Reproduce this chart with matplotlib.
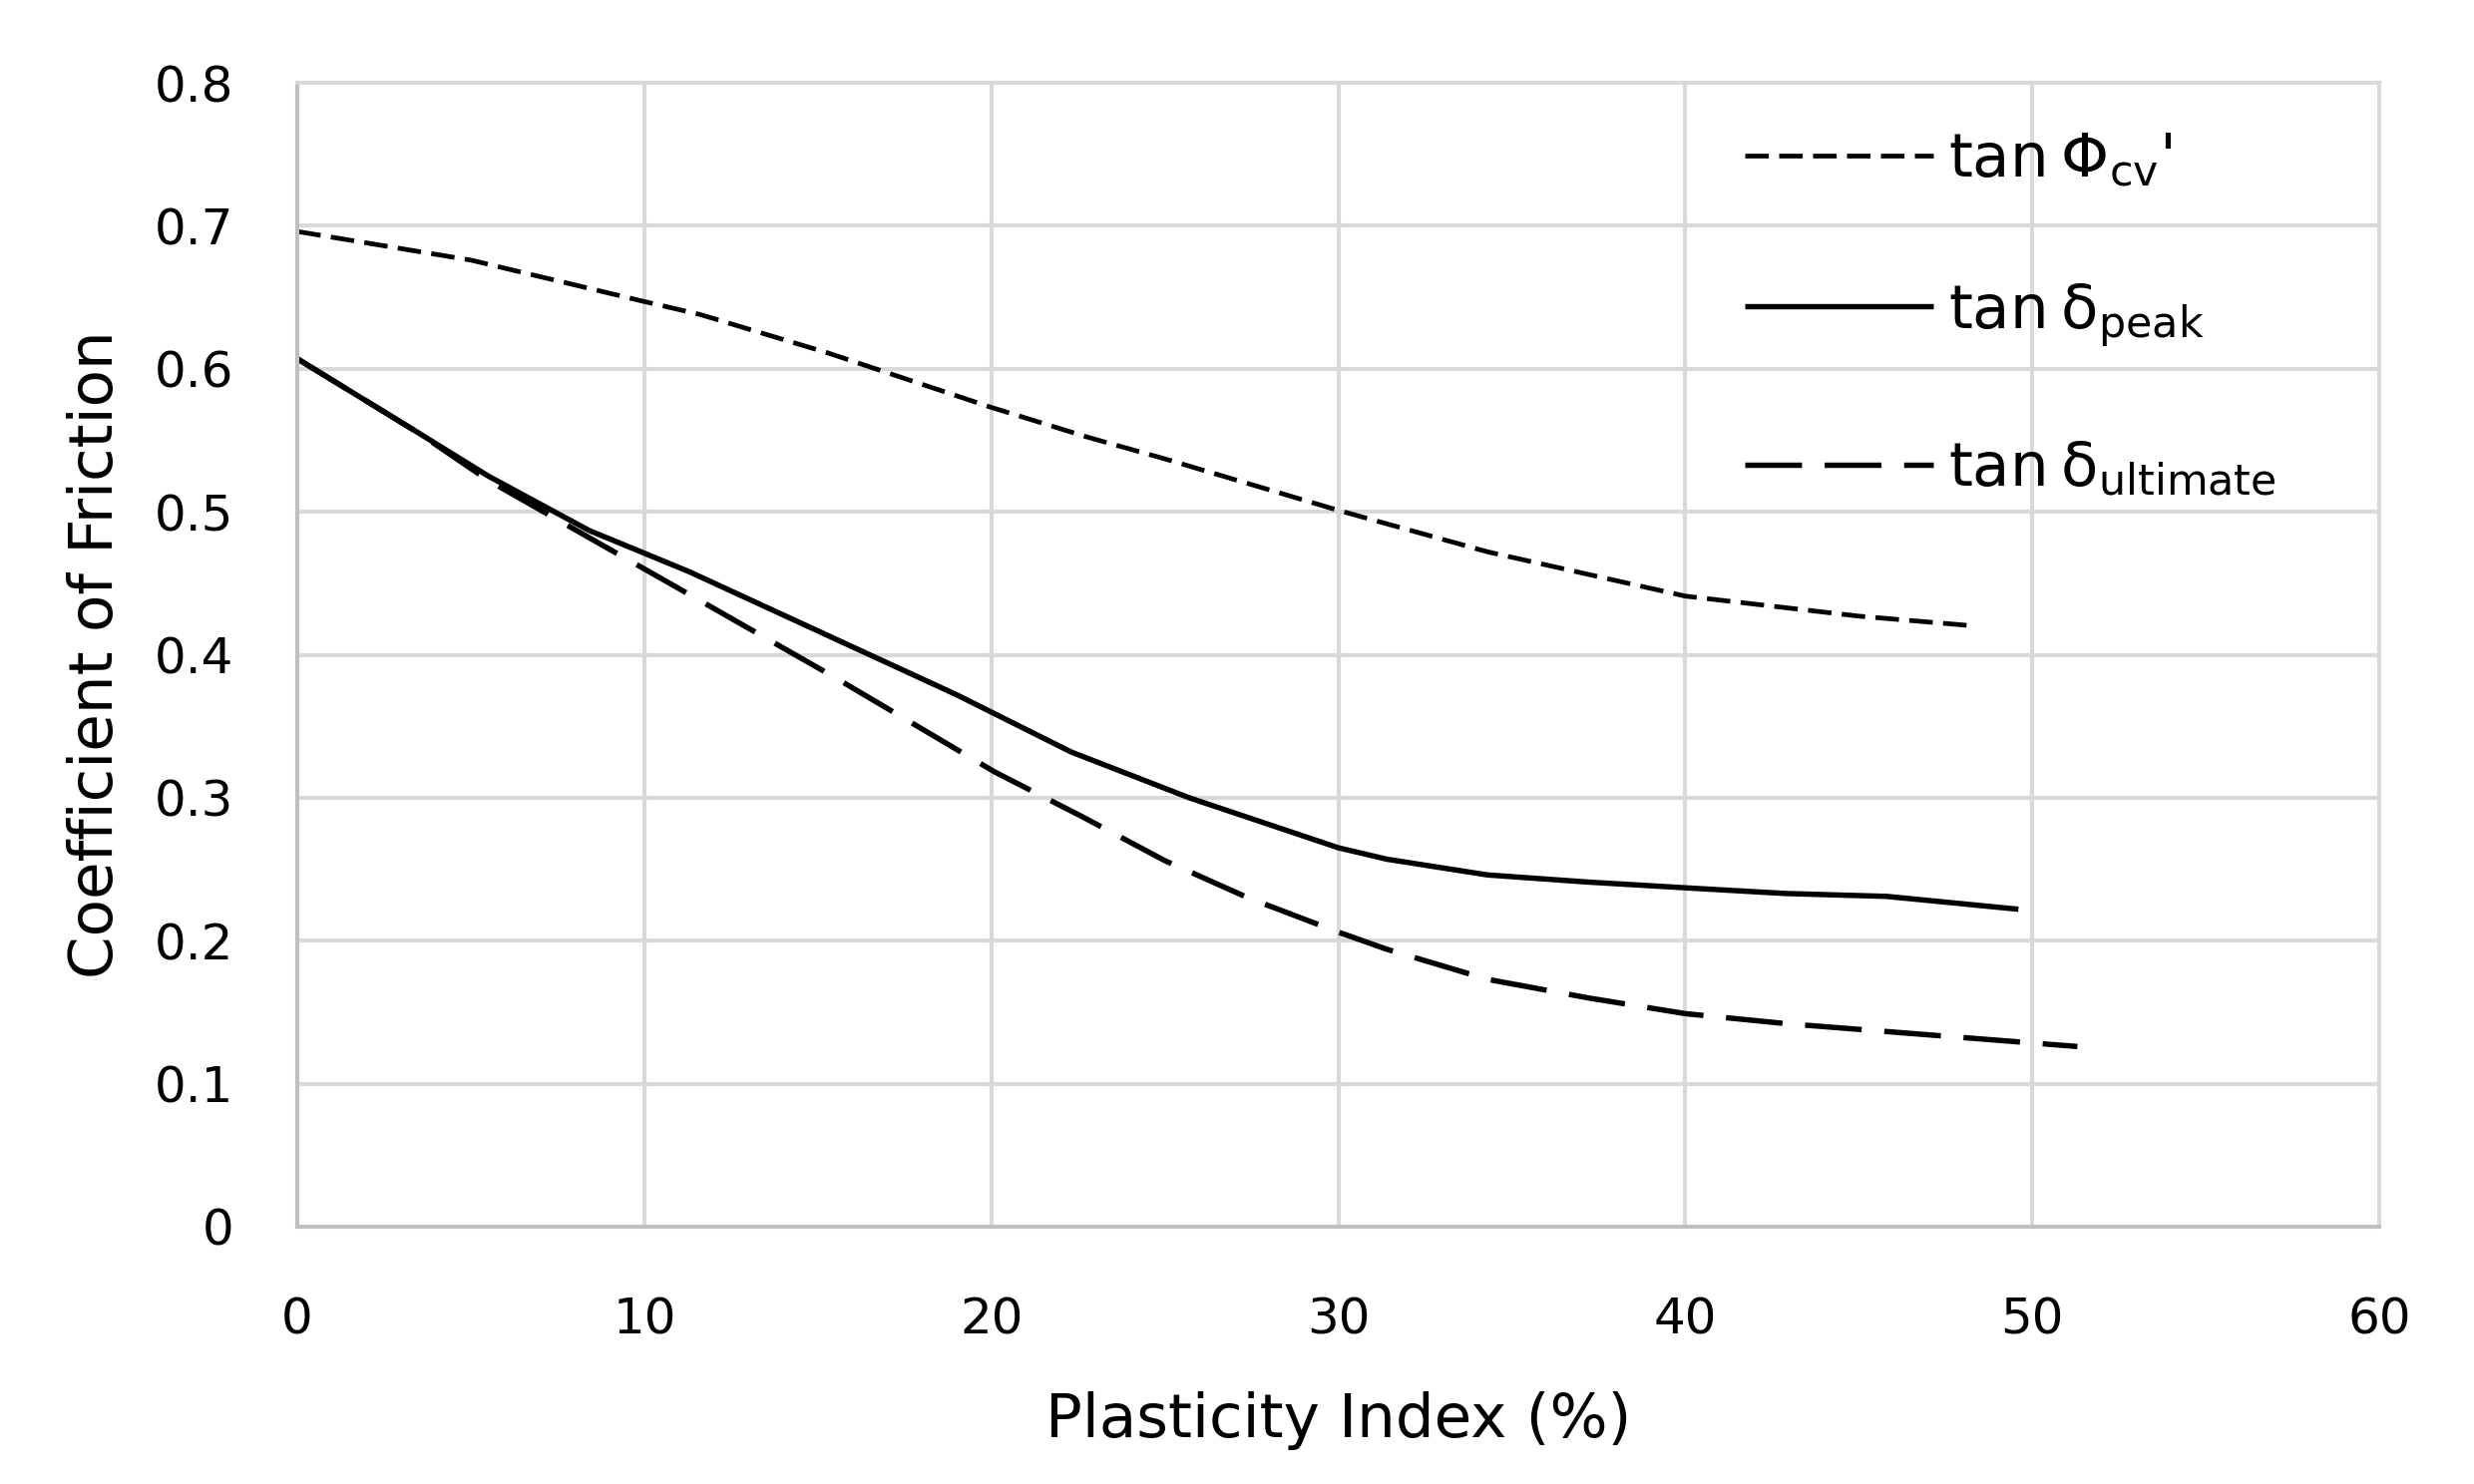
import numpy as np
import matplotlib
matplotlib.use("Agg")
import matplotlib.pyplot as plt

# values
pi_cv = [0, 5, 10, 11.6, 15.3, 20, 22.8, 25, 30, 34.3, 40, 45, 48.4]
tan_phi_cv = [0.696, 0.676, 0.647, 0.638, 0.611, 0.573, 0.552, 0.537, 0.501, 0.472, 0.441, 0.427, 0.420]

pi_peak = [0, 3.5, 5.5, 8.4, 10, 11.3, 19, 22.3, 25.7, 30, 31.4, 34.3, 37.2, 40, 42.9, 45.8, 49.6]
tan_peak = [0.607, 0.555, 0.525, 0.487, 0.471, 0.458, 0.372, 0.332, 0.300, 0.265, 0.257, 0.246, 0.241,
            0.237, 0.233, 0.231, 0.222]

pi_ult = [0, 3.5, 5.5, 8.4, 10.8, 15.5, 20.1, 22.6, 25, 27.4, 30, 31.4, 34.3, 37.2, 40, 42.9, 51.3]
tan_ult = [0.607, 0.555, 0.522, 0.482, 0.449, 0.384, 0.318, 0.287, 0.256, 0.230, 0.206, 0.194, 0.173,
           0.160, 0.149, 0.142, 0.126]

x_ticks = [0, 10, 20, 30, 40, 50, 60]
y_ticks = [0, 0.1, 0.2, 0.3, 0.4, 0.5, 0.6, 0.7, 0.8]
y_labels = ["0", "0.1", "0.2", "0.3", "0.4", "0.5", "0.6", "0.7", "0.8"]

plt.rcParams['font.family'] = ['DejaVu Sans']
grid_c = "#d9d9d9"

fig = plt.figure(figsize=(24.8, 14.88), dpi=100)
ax = fig.add_axes([0.1202, 0.1734, 0.8415, 0.7708])

ax.plot(pi_cv, tan_phi_cv, color="black", lw=3.4, dashes=(5.0, 2.2),
        label="tan\u2009Φ$_{\\mathregular{cv}}$'")
ax.plot(pi_peak, tan_peak, color="black", lw=3.9, solid_capstyle="butt",
        label="tan\u2009δ$_{\\mathregular{peak}}$")
ax.plot(pi_ult, tan_ult, color="black", lw=3.9, dashes=(10.5, 4.2),
        label="tan\u2009δ$_{\\mathregular{ultimate}}$")

ax.set_xlim(0, 60)
ax.set_ylim(0, 0.8)
ax.set_xticks(x_ticks)
ax.set_yticks(y_ticks)
ax.set_yticklabels(y_labels)
ax.grid(True, color=grid_c, lw=2.9)
ax.set_axisbelow(True)
ax.tick_params(axis="both", length=0, labelsize=36, colors="black")
ax.tick_params(axis="y", pad=46)
ax.tick_params(axis="x", pad=50)

for s in ["left", "bottom"]:
    ax.spines[s].set_color("#bfbfbf")
    ax.spines[s].set_linewidth(2.9)
for s in ["top", "right"]:
    ax.spines[s].set_color(grid_c)
    ax.spines[s].set_linewidth(2.9)

ax.set_xlabel("Plasticity Index (%)", fontsize=44, labelpad=34)
ax.set_ylabel("Coefficient of Friction", fontsize=44, labelpad=21)

leg = ax.legend(loc="upper left", bbox_to_anchor=(0.695, 0.958), frameon=False, fontsize=44,
                handlelength=3.1, handletextpad=0.25, labelspacing=1.5, borderpad=0,
                borderaxespad=0)

fig.savefig("out.png", dpi=100, facecolor="white")
